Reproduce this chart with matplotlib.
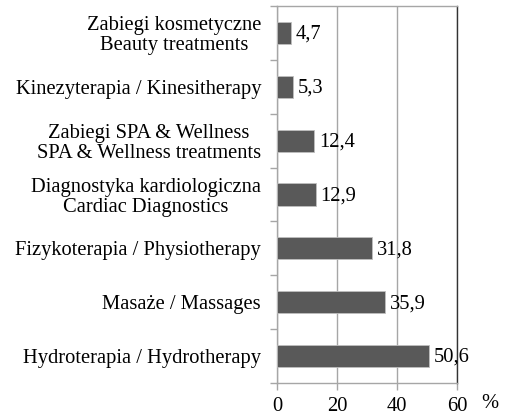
import matplotlib
matplotlib.use("Agg")
import matplotlib.pyplot as plt

categories = [
    "Zabiegi kosmetyczne\nBeauty treatments",
    "Kinezyterapia / Kinesitherapy",
    "Zabiegi SPA & Wellness\nSPA & Wellness treatments",
    "Diagnostyka kardiologiczna\nCardiac Diagnostics",
    "Fizykoterapia / Physiotherapy",
    "Masaże / Massages",
    "Hydroterapia / Hydrotherapy",
]
values = [4.7, 5.3, 12.4, 12.9, 31.8, 35.9, 50.6]
value_labels = ["4,7", "5,3", "12,4", "12,9", "31,8", "35,9", "50,6"]
xticks = [0, 20, 40, 60]

plt.rcParams['font.family'] = ['Liberation Serif', 'DejaVu Serif']
fs = 14.8

fig = plt.figure(figsize=(5.06, 4.16), dpi=100)
ax = fig.add_axes([0.5474, 0.0793, 0.3558, 0.9063])

n = len(categories)
ypos = list(range(n))
ax.barh(ypos, values, height=0.41, color='#595959', edgecolor='#bfbfbf', linewidth=0.6, zorder=3)
ax.set_ylim(n - 0.5, -0.5)
ax.set_xlim(0, 60)

for y, v, lab in zip(ypos, values, value_labels):
    ax.annotate(lab, (v, y), xytext=(3.5, -1), textcoords='offset points',
                va='center', ha='left', fontsize=fs, color='black')

ax.set_xticks(xticks)
ax.set_xticklabels([str(t) for t in xticks], fontsize=fs)
ax.xaxis.grid(True, color='#a6a6a6', linewidth=1.0, zorder=0)

ax.set_yticks(ypos)
ax.set_yticklabels(categories, fontsize=fs, ha='right', multialignment='center',
                   linespacing=1.05)
ax.set_yticks([i - 0.5 for i in range(n + 1)], minor=True)
ax.tick_params(axis='y', which='major', length=0, pad=11.5)
ax.tick_params(axis='y', which='minor', length=5, color='#a6a6a6', width=1.0)
ax.tick_params(axis='x', which='major', length=5, color='#a6a6a6', width=1.0, pad=5)

for s in ['left', 'bottom', 'top']:
    ax.spines[s].set_color('#a6a6a6')
    ax.spines[s].set_linewidth(1.0)
ax.spines['right'].set_color('#333333')
ax.spines['right'].set_linewidth(1.0)

fig.text(0.968, 0.03, "%", fontsize=fs, ha='center', va='center')

fig.savefig("out.png", dpi=100)
